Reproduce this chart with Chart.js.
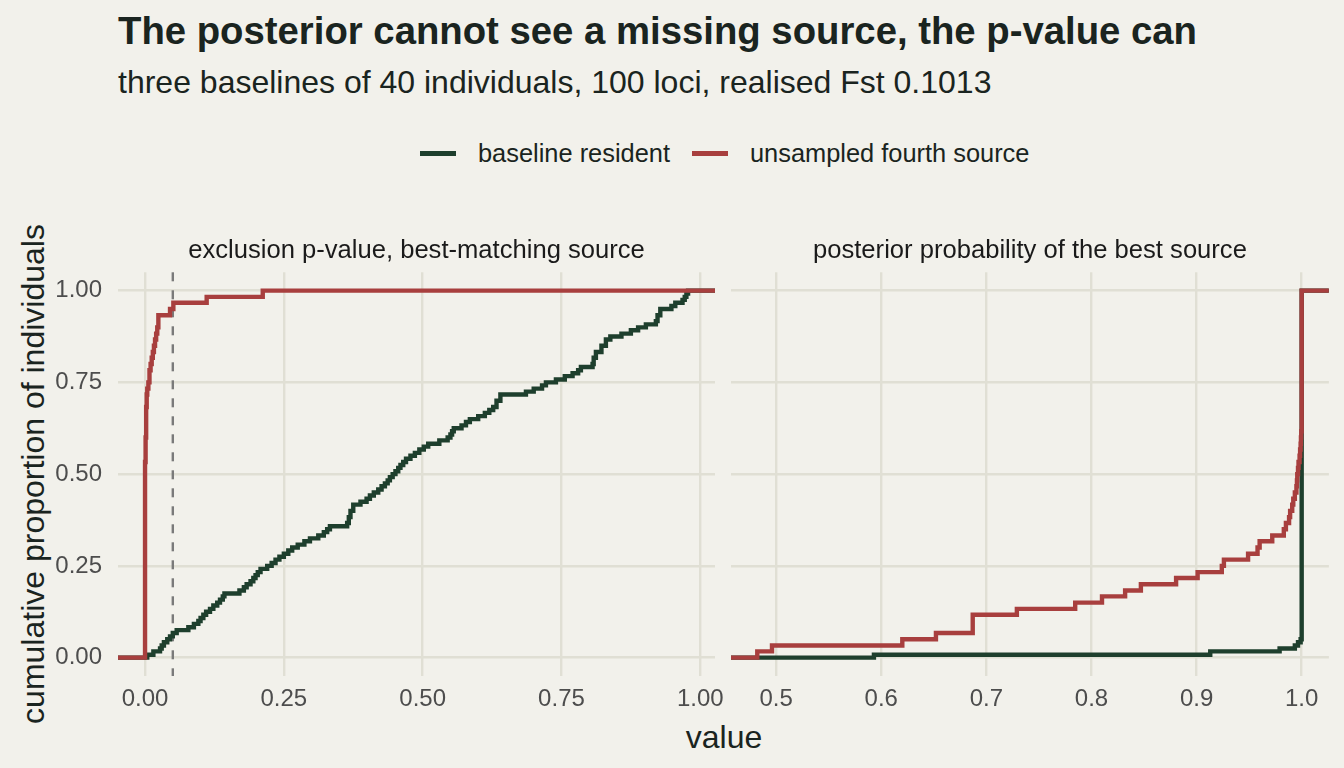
<!DOCTYPE html>
<html>
<head>
<meta charset="utf-8">
<script src="https://cdn.jsdelivr.net/npm/chart.js@4.4.1/dist/chart.umd.min.js"></script>
<style>
  html, body { margin: 0; padding: 0; background: #f2f1eb; }
  body { width: 1344px; height: 768px; position: relative; overflow: hidden; font-family: "Liberation Sans", Arial, sans-serif; color: #1a2420; }
  #title { position: absolute; left: 118px; top: 12px; font-size: 38.3px; line-height: 38px; font-weight: bold; white-space: nowrap; }
  #subtitle { position: absolute; left: 118px; top: 66px; font-size: 32px; line-height: 32px; white-space: nowrap; }
  #legend { position: absolute; left: 420px; top: 141px; display: flex; align-items: center; font-size: 25.4px; line-height: 25px; white-space: nowrap; }
  #legend .key { width: 36px; height: 5px; margin-right: 22px; }
  #legend .lab { margin-right: 22px; }
  #ytitle { position: absolute; left: 33px; top: 474px; transform: translate(-50%, -50%) rotate(-90deg); font-size: 32px; line-height: 32px; white-space: nowrap; }
  #xtitle { position: absolute; left: 724px; top: 737px; transform: translate(-50%, -50%); font-size: 32px; line-height: 32px; white-space: nowrap; }
  canvas { position: absolute; }
</style>
</head>
<body>
<div id="title">The posterior cannot see a missing source, the p-value can</div>
<div id="subtitle">three baselines of 40 individuals, 100 loci, realised Fst 0.1013</div>
<div id="legend"></div>
<div id="ytitle">cumulative proportion of individuals</div>
<div id="xtitle">value</div>
<canvas id="pvalChart" width="760" height="540" style="left:0px;top:200px"></canvas>
<canvas id="postChart" width="644" height="540" style="left:700px;top:200px"></canvas>
<script>
//  series names and colours
var seriesNames = ["baseline resident", "unsampled fourth source"];
var seriesColors = ["#1e3f2d", "#a83f3e"];

//  facet labels
var stripLabels = ["exclusion p-value, best-matching source", "posterior probability of the best source"];

//  axes
var yLimits = [-0.05, 1.05];
var yTicks = [0, 0.25, 0.5, 0.75, 1];
var yTickLabels = ["0.00", "0.25", "0.50", "0.75", "1.00"];
var pLimits = [-0.0487, 1.0265];
var pTicks = [0, 0.25, 0.5, 0.75, 1];
var pTickLabels = ["0.00", "0.25", "0.50", "0.75", "1.00"];
var postLimits = [0.457, 1.0259];
var postTicks = [0.5, 0.6, 0.7, 0.8, 0.9, 1.0];
var postTickLabels = ["0.5", "0.6", "0.7", "0.8", "0.9", "1.0"];
var alphaLine = 0.05;

//  ECDF steps: value where the curve jumps, cumulative proportion after the jump
//  exclusion p-value, baseline residents
var pResidentX = [0.004, 0.015, 0.027, 0.030, 0.034, 0.040, 0.045, 0.050, 0.057, 0.078, 0.088, 0.096, 0.100, 0.105, 0.110,
    0.117, 0.123, 0.130, 0.135, 0.140, 0.143, 0.170, 0.178, 0.183, 0.190, 0.195, 0.199, 0.203, 0.208, 0.220,
    0.228, 0.235, 0.242, 0.250, 0.258, 0.265, 0.275, 0.287, 0.297, 0.312, 0.322, 0.328, 0.333, 0.364, 0.367,
    0.370, 0.375, 0.388, 0.399, 0.405, 0.412, 0.420, 0.426, 0.432, 0.437, 0.441, 0.446, 0.451, 0.456, 0.460,
    0.465, 0.470, 0.478, 0.486, 0.494, 0.502, 0.510, 0.530, 0.545, 0.550, 0.553, 0.556, 0.570, 0.578, 0.585,
    0.600, 0.612, 0.620, 0.627, 0.633, 0.640, 0.686, 0.700, 0.715, 0.722, 0.740, 0.756, 0.770, 0.780, 0.785,
    0.806, 0.808, 0.812, 0.822, 0.830, 0.838, 0.858, 0.875, 0.888, 0.902, 0.920, 0.923, 0.928, 0.948, 0.955,
    0.968, 0.972, 0.975, 0.978];
var pResidentY = [0.008, 0.017, 0.025, 0.033, 0.042, 0.050, 0.058, 0.067, 0.075, 0.083, 0.092, 0.100, 0.108, 0.117, 0.125,
    0.133, 0.142, 0.150, 0.158, 0.167, 0.175, 0.183, 0.192, 0.200, 0.208, 0.217, 0.225, 0.233, 0.242, 0.250,
    0.258, 0.267, 0.275, 0.283, 0.292, 0.300, 0.308, 0.317, 0.325, 0.333, 0.342, 0.350, 0.358, 0.367, 0.383,
    0.400, 0.417, 0.425, 0.433, 0.442, 0.450, 0.458, 0.467, 0.475, 0.483, 0.492, 0.500, 0.508, 0.517, 0.525,
    0.533, 0.542, 0.550, 0.558, 0.567, 0.575, 0.583, 0.592, 0.600, 0.608, 0.617, 0.625, 0.633, 0.642, 0.650,
    0.658, 0.667, 0.675, 0.683, 0.700, 0.717, 0.725, 0.733, 0.742, 0.750, 0.758, 0.767, 0.775, 0.783, 0.792,
    0.800, 0.817, 0.833, 0.850, 0.867, 0.875, 0.883, 0.892, 0.900, 0.908, 0.917, 0.933, 0.950, 0.958, 0.967,
    0.975, 0.983, 0.992, 1.000];
//  exclusion p-value, unsampled fourth source
var pFourthX = [0, 0.001, 0.002, 0.003, 0.004, 0.006, 0.008, 0.010, 0.012, 0.014, 0.016, 0.018, 0.020, 0.022, 0.024,
    0.045, 0.051, 0.111, 0.212];
var pFourthY = [0.533, 0.600, 0.683, 0.717, 0.733, 0.750, 0.783, 0.800, 0.817, 0.833, 0.850, 0.867, 0.883, 0.900, 0.933,
    0.950, 0.967, 0.983, 1.000];
//  posterior of best source, baseline residents
var postResidentX = [0.593, 0.913, 0.979, 0.9935, 0.9965, 0.999, 1.0];
var postResidentY = [0.008, 0.017, 0.025, 0.033, 0.042, 0.050, 1.000];
//  posterior of best source, unsampled fourth source
var postFourthX = [0.482, 0.496, 0.620, 0.652, 0.687, 0.729, 0.7845, 0.810, 0.832, 0.847, 0.8805, 0.901, 0.924, 0.926,
    0.949, 0.958, 0.960, 0.972, 0.983, 0.985, 0.988, 0.989, 0.991, 0.992, 0.9935, 0.995, 0.9955, 0.9958,
    0.9965, 0.997, 0.998, 0.9985, 0.999, 0.9993, 0.9996, 1.0];
var postFourthY = [0.017, 0.033, 0.050, 0.067, 0.117, 0.133, 0.150, 0.167, 0.183, 0.200, 0.217, 0.233, 0.250, 0.267,
    0.283, 0.300, 0.317, 0.333, 0.350, 0.367, 0.383, 0.400, 0.417, 0.433, 0.450, 0.467, 0.483, 0.500,
    0.517, 0.533, 0.550, 0.567, 0.583, 0.600, 0.617, 1.000];

var tickColor = "#4d4d4d";
var gridColor = "#e0dfd4";

//  build legend
var legendDiv = document.getElementById("legend");
seriesNames.forEach(function (name, i) {
    var key = document.createElement("span");
    key.className = "key";
    key.style.background = seriesColors[i];
    var lab = document.createElement("span");
    lab.className = "lab";
    lab.textContent = name;
    legendDiv.appendChild(key);
    legendDiv.appendChild(lab);
});

//  step points, padded out to the panel edges like stat_ecdf
function ecdfPoints(xs, ys, limits) {
    var pts = [{x: limits[0], y: 0}];
    for (var i = 0; i < xs.length; i++) {
        pts.push({x: xs[i], y: ys[i]});
    }
    pts.push({x: limits[1], y: 1});
    return pts;
}

//  dashed reference line at alpha
var refLine = {
    id: "refLine",
    beforeDatasetsDraw: function (chart, args, opts) {
        if (opts.value === undefined) return;
        var area = chart.chartArea;
        var px = chart.scales.x.getPixelForValue(opts.value);
        var ctx = chart.ctx;
        ctx.save();
        ctx.strokeStyle = "#7a7a7a";
        ctx.lineWidth = 2.4;
        ctx.setLineDash([9, 9]);
        ctx.beginPath();
        ctx.moveTo(px, area.top);
        ctx.lineTo(px, area.bottom);
        ctx.stroke();
        ctx.restore();
    }
};

function lineSet(label, pts, color, order) {
    return {
        label: label,
        data: pts,
        borderColor: color,
        backgroundColor: color,
        borderWidth: 4.4,
        stepped: "before",
        pointRadius: 0,
        fill: false,
        tension: 0,
        order: order,
        borderCapStyle: "butt",
        borderJoinStyle: "miter"
    };
}

function panel(canvasId, strip, resident, fourth, xLimits, xTicks, xLabels, showY, pad, ref) {
    return new Chart(document.getElementById(canvasId), {
        type: "line",
        data: {
            datasets: [
                lineSet(seriesNames[0], ecdfPoints(resident[0], resident[1], xLimits), seriesColors[0], 1),
                lineSet(seriesNames[1], ecdfPoints(fourth[0], fourth[1], xLimits), seriesColors[1], 0)
            ]
        },
        plugins: [refLine],
        options: {
            responsive: false,
            animation: false,
            layout: {padding: pad},
            plugins: {
                legend: {display: false},
                tooltip: {enabled: false},
                refLine: {value: ref},
                title: {
                    display: true,
                    text: strip,
                    fullSize: false,
                    color: "#1a1a1a",
                    font: {family: "Liberation Sans", size: 25.6, weight: "normal", lineHeight: 1.2},
                    padding: {top: 35.5, bottom: 6.08}
                }
            },
            scales: {
                x: {
                    type: "linear",
                    min: xLimits[0],
                    max: xLimits[1],
                    afterBuildTicks: function (scale) {
                        scale.ticks = xTicks.map(function (v) { return {value: v}; });
                    },
                    afterFit: function (scale) { scale.height = 64; },
                    grid: {color: gridColor, lineWidth: 2.4, drawTicks: false},
                    border: {display: false},
                    ticks: {
                        autoSkip: false,
                        maxRotation: 0,
                        padding: 9,
                        color: tickColor,
                        font: {family: "Liberation Sans", size: 24},
                        callback: function (v, i) { return xLabels[i]; }
                    }
                },
                y: {
                    type: "linear",
                    min: yLimits[0],
                    max: yLimits[1],
                    afterBuildTicks: function (scale) {
                        scale.ticks = yTicks.map(function (v) { return {value: v}; });
                    },
                    afterFit: function (scale) { scale.width = showY ? 118 : 0; },
                    grid: {color: gridColor, lineWidth: 2.4, drawTicks: false},
                    border: {display: false},
                    ticks: {
                        display: showY,
                        autoSkip: false,
                        padding: 16,
                        color: tickColor,
                        font: {family: "Liberation Sans", size: 24},
                        callback: function (v, i) { return yTickLabels[i]; }
                    }
                }
            }
        }
    });
}

panel("pvalChart", stripLabels[0], [pResidentX, pResidentY], [pFourthX, pFourthY],
    pLimits, pTicks, pTickLabels, true, {left: 0, right: 45, top: 0, bottom: 0}, alphaLine);
panel("postChart", stripLabels[1], [postResidentX, postResidentY], [postFourthX, postFourthY],
    postLimits, postTicks, postTickLabels, false, {left: 31, right: 15.1, top: 0, bottom: 0}, undefined);
</script>
</body>
</html>
